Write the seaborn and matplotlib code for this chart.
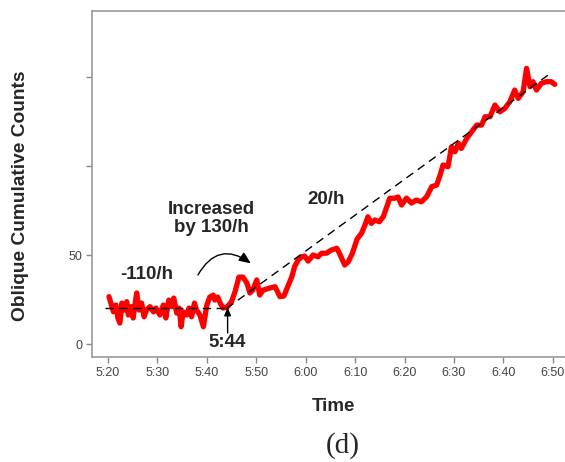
import numpy as np
import pandas as pd
import seaborn as sns
import matplotlib.pyplot as plt

# minutes after 5:20 and oblique cumulative counts
minutes = [0.2, 1.1, 1.6, 2.0, 2.4, 2.8, 3.3, 3.8, 4.1, 4.7, 5.1, 5.8, 6.3, 6.8, 7.3,
           7.8, 8.5, 9.2, 9.7, 10.5, 11.2, 11.7, 12.3, 12.9, 13.3, 13.9, 14.4, 14.8,
           15.2, 15.9, 16.4, 16.9, 17.5, 17.9, 18.6, 19.3, 20.0, 20.6, 21.3, 21.6,
           22.2, 22.7, 23.3, 24.1, 25.0, 25.7, 26.5, 27.3, 28.1, 28.7, 29.3, 30.1,
           30.7, 31.4, 32.8, 33.8, 34.8, 35.6, 36.5, 37.2, 37.8, 38.5, 39.2, 39.8,
           40.5, 41.5, 42.5, 43.2, 44.2, 45.2, 46.3, 46.9, 47.9, 48.6, 49.4, 50.0,
           50.4, 51.3, 52.0, 52.6, 53.3, 54.0, 54.9, 55.7, 56.4, 57.0, 58.0, 58.7,
           59.4, 60.4, 61.4, 62.4, 63.4, 64.5, 65.5, 66.5, 67.2, 67.8, 68.8, 69.5,
           70.2, 70.9, 71.5, 72.6, 73.6, 74.6, 75.6, 76.3, 77.3, 78.3, 79.3, 80.3,
           81.3, 82.3, 83.0, 84.0, 84.7, 85.4, 86.0, 86.7, 87.7, 88.7, 89.7, 90.4]
counts = [26.6, 18.1, 21.9, 14.6, 11.8, 23.0, 19.1, 23.8, 16.3, 21.0, 14.6, 28.7, 19.1,
          23.0, 15.3, 19.1, 21.0, 18.1, 20.2, 16.3, 21.9, 14.6, 24.7, 21.0, 25.8, 17.4,
          20.2, 9.7, 18.1, 16.3, 20.2, 15.3, 23.0, 19.1, 16.3, 9.7, 21.9, 26.4, 27.5,
          24.7, 26.4, 23.0, 20.2, 20.8, 23.8, 29.4, 37.6, 37.6, 34.3, 28.7, 30.3, 36.0,
          27.5, 30.3, 31.5, 32.2, 26.6, 27.0, 33.1, 37.8, 43.8, 47.2, 48.9, 49.4, 46.6,
          50.0, 49.0, 51.0, 51.0, 52.8, 53.8, 50.6, 44.4, 46.1, 50.6, 55.6, 59.0, 62.2,
          66.9, 71.5, 67.8, 69.7, 68.7, 71.5, 77.0, 81.9, 81.9, 82.6, 78.1, 82.0, 79.2,
          80.9, 79.9, 82.8, 88.4, 89.3, 94.9, 100.6, 99.6, 110.8, 108.0, 112.8, 109.9,
          115.6, 119.3, 123.0, 123.0, 127.7, 127.7, 134.3, 130.5, 132.4, 136.1, 142.7,
          138.0, 141.7, 154.9, 144.6, 147.4, 142.7, 146.5, 147.4, 147.4, 145.9]

# fitted trend lines before and after the 5:44 change point
before_x = [-0.6, 24.0]
before_y = [20, 20]
after_x = [24.0, 89.0]
after_y = [20, 151]

tick_minutes = [0, 10, 20, 30, 40, 50, 60, 70, 80, 90]
tick_labels = ["5:20", "5:30", "5:40", "5:50", "6:00", "6:10", "6:20", "6:30", "6:40", "6:50"]
y_ticks = [0, 50, 100, 150]
y_labels = ["0", "50", "", ""]

df = pd.DataFrame({"minute": minutes, "count": counts})

sns.set_style("white")
plt.rcParams["font.family"] = ["Liberation Sans", "DejaVu Sans"]

fig = plt.figure(figsize=(5.65, 4.62), dpi=100)
ax = fig.add_axes([92 / 565, 105 / 462, 483 / 565, 346.5 / 462])

sns.lineplot(data=df, x="minute", y="count", color="#ff0000", linewidth=3.8,
             ax=ax, zorder=2)
ax.plot(before_x, before_y, color="black", linestyle=(0, (6, 4)), linewidth=1.0, zorder=3)
ax.plot(after_x, after_y, color="black", linestyle=(0, (6, 4)), linewidth=1.0, zorder=3)

ax.set_xlim(-3.24, 94.5)
ax.set_ylim(-7.3, 187.4)
ax.set_xticks(tick_minutes)
ax.set_xticklabels(tick_labels)
ax.set_yticks(y_ticks)
ax.set_yticklabels(y_labels)
ax.tick_params(axis="both", direction="out", length=4, width=1, color="#888888",
               labelcolor="#444444", labelsize=9, pad=3, left=True, bottom=True)
for side in ["left", "bottom", "top", "right"]:
    ax.spines[side].set_color("#999999")
    ax.spines[side].set_linewidth(1.2)

ax.set_xlabel("Time", fontsize=13.5, fontweight="bold", labelpad=14)
ax.set_ylabel("Oblique Cumulative Counts", fontsize=13.8, fontweight="bold")
ax.yaxis.set_label_coords(-0.13, 0.465)

ax.text(7.9, 38.8, "-110/h", fontsize=13.5, fontweight="bold", ha="center", va="center")
ax.text(21.0, 70.5, "Increased\nby 130/h", fontsize=13.5, fontweight="bold",
        ha="center", va="center", linespacing=1.1)
ax.text(44.1, 81.0, "20/h", fontsize=13.5, fontweight="bold", ha="center", va="center")
ax.text(24.1, 1.0, "5:44", fontsize=13.5, fontweight="bold", ha="center", va="center")

ax.annotate("", xy=(24.2, 20.8), xytext=(24.2, 6.2),
            arrowprops=dict(arrowstyle="-|>,head_length=0.5,head_width=0.2",
                            color="black", lw=1.0, shrinkA=0, shrinkB=0))
ax.annotate("", xy=(28.9, 45.3), xytext=(18.2, 38.8),
            arrowprops=dict(arrowstyle="-|>,head_length=0.7,head_width=0.3",
                            color="black", lw=1.0, shrinkA=0, shrinkB=0,
                            connectionstyle="arc3,rad=-0.55"))

fig.text(343 / 565, 1 - 446 / 462, "(d)", fontsize=21, family="Liberation Serif",
         ha="center", va="center")

fig.savefig("out.png", dpi=100)
